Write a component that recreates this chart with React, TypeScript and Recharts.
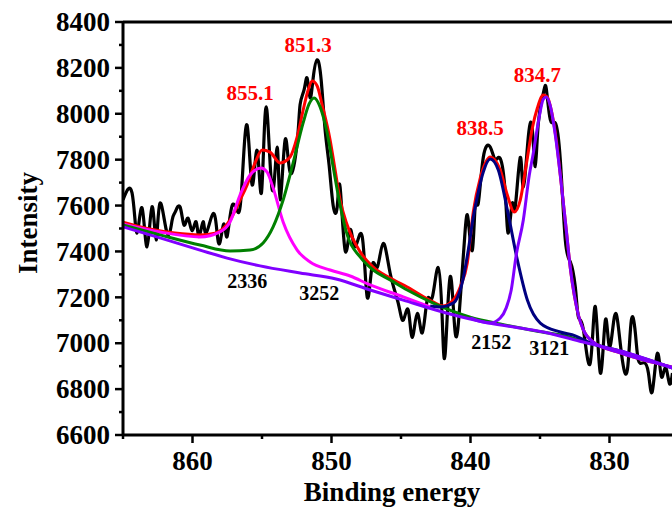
import React from 'react';
import {
  LineChart,
  Line,
  XAxis,
  YAxis,
  ReferenceLine,
  ReferenceDot,
  Label,
} from 'recharts';

type Pt = [number, number];

// measured spectrum (binding energy, intensity)
const measured: Pt[] = [
  [865.0, 7625], [864.35, 7655], [864.0, 7480], [863.63, 7590], [863.27, 7420],
  [862.91, 7595], [862.62, 7450], [862.34, 7610], [861.83, 7480], [861.47, 7535],
  [861.26, 7570], [860.9, 7595], [860.61, 7515], [860.32, 7545], [860.03, 7490],
  [859.74, 7530], [859.53, 7465], [859.24, 7530], [859.02, 7480], [858.52, 7565],
  [858.23, 7480], [858.02, 7440], [857.73, 7520], [857.51, 7465], [857.15, 7600],
  [856.72, 7570], [856.43, 7705], [856.07, 7950], [855.71, 7690], [855.35, 7840],
  [855.03, 7660], [854.7, 8030], [854.27, 7670], [853.91, 7855], [853.7, 7625],
  [853.34, 7885], [852.98, 7745], [852.47, 7875], [852.26, 8040], [851.97, 8105],
  [851.75, 8155], [851.54, 8070], [851.32, 8155], [851.03, 8235], [850.74, 8145],
  [850.46, 7930], [850.17, 7775], [849.88, 7600], [849.59, 7595], [849.38, 7680],
  [849.02, 7405], [848.66, 7495], [848.3, 7420], [847.79, 7465], [847.43, 7200],
  [847.07, 7340], [846.71, 7330], [846.28, 7435], [845.78, 7305], [845.2, 7175],
  [844.84, 7100], [844.48, 7145], [844.19, 7025], [843.83, 7130], [843.47, 7045],
  [843.11, 7190], [842.75, 7200], [842.32, 7330], [842.03, 7100], [841.82, 6955],
  [841.46, 7290], [841.1, 7045], [840.74, 7190], [840.38, 7495], [840.16, 7535],
  [839.87, 7405], [839.66, 7600], [839.44, 7610], [839.08, 7810], [838.58, 7855],
  [838.22, 7800], [837.86, 7805], [837.5, 7655], [837.28, 7480], [837.0, 7610],
  [836.78, 7595], [836.42, 7810], [836.2, 7680], [835.84, 7900], [835.55, 7930],
  [835.34, 7770], [835.12, 7960], [834.76, 8090], [834.55, 8110], [834.26, 7975],
  [833.9, 7960], [833.54, 7800], [833.18, 7450], [832.82, 7355], [832.46, 7245],
  [832.24, 7115], [831.88, 7060], [831.38, 6915], [831.02, 7160], [830.66, 6870],
  [830.3, 7100], [830.01, 6985], [829.65, 7115], [829.36, 7070], [829.07, 6925],
  [828.71, 6885], [828.43, 7100], [828.14, 7045], [827.92, 6925], [827.56, 6915],
  [827.2, 6870], [826.92, 6790], [826.56, 6955], [826.27, 6855], [825.98, 6895],
  [825.69, 6825], [825.47, 6870],
];

// cumulative fit envelope
const envelope: Pt[] = [
  [865.0, 7528], [863.06, 7498], [861.26, 7480], [859.46, 7472], [858.38, 7480],
  [857.3, 7537], [856.58, 7624], [856.07, 7690], [855.5, 7786], [854.99, 7842],
  [854.42, 7833], [853.7, 7786], [852.98, 7812], [852.47, 7899], [852.04, 8016],
  [851.68, 8104], [851.39, 8143], [851.03, 8121], [850.67, 8038], [850.1, 7886],
  [849.74, 7755], [849.38, 7624], [848.87, 7515], [847.94, 7398], [847.0, 7332],
  [845.78, 7284], [844.55, 7245], [842.68, 7180], [841.96, 7162], [841.24, 7188],
  [840.74, 7245], [840.23, 7350], [839.8, 7572], [839.3, 7720], [838.58, 7812],
  [837.86, 7755], [837.35, 7646], [836.85, 7572], [836.42, 7624], [835.99, 7777],
  [835.55, 7938], [835.19, 8025], [834.76, 8082], [834.47, 8073], [834.19, 8016],
  [833.83, 7886], [833.54, 7733], [833.11, 7494], [832.82, 7328], [832.24, 7123],
  [831.88, 7058], [831.16, 7005], [829.44, 6962], [825.47, 6896],
];

// 855.1 component
const peak8551: Pt[] = [
  [865.0, 7520], [862.34, 7485], [859.46, 7463], [858.02, 7485], [857.3, 7528],
  [856.58, 7646], [855.86, 7733], [855.06, 7764], [854.63, 7746], [854.2, 7677],
  [853.48, 7528], [852.47, 7406], [851.54, 7354], [850.1, 7319], [848.66, 7293],
  [847.22, 7254], [844.84, 7202], [842.9, 7158],
];

// 851.3 component
const peak8513: Pt[] = [
  [865.0, 7515], [862.34, 7472], [859.46, 7428], [857.3, 7402], [855.86, 7406],
  [854.92, 7437], [854.2, 7507], [853.48, 7624], [852.76, 7786], [852.04, 7960],
  [851.61, 8043], [851.25, 8069], [850.82, 8030], [850.31, 7916], [849.88, 7768],
  [849.38, 7602], [848.87, 7472], [847.94, 7376], [847.0, 7319], [845.78, 7276],
  [844.55, 7232], [842.68, 7175], [840.02, 7114], [837.86, 7084], [835.27, 7053],
  [832.89, 7027], [831.38, 6997],
];

// 838.5 component
const peak8385: Pt[] = [
  [842.9, 7162], [842.18, 7158], [841.24, 7175], [840.52, 7284], [840.16, 7406],
  [839.8, 7550], [839.44, 7659], [839.08, 7746], [838.58, 7803], [838.0, 7755],
  [837.35, 7581], [836.63, 7363], [835.91, 7188], [834.98, 7088], [833.54, 7049],
  [832.46, 7032], [831.38, 7001], [829.22, 6966], [825.47, 6892],
];

// 834.7 component
const peak8347: Pt[] = [
  [840.02, 7110], [838.58, 7088], [837.86, 7110], [837.43, 7154], [837.07, 7232],
  [836.71, 7385], [836.2, 7537], [835.77, 7733], [835.48, 7829], [835.12, 7964],
  [834.76, 8064], [834.55, 8073], [834.26, 8034], [833.9, 7908], [833.54, 7733],
  [833.11, 7494], [832.82, 7328], [832.53, 7210], [832.24, 7123], [831.88, 7058],
  [831.16, 7005], [829.44, 6962], [825.47, 6896],
];

// Shirley background
const background: Pt[] = [
  [865.0, 7507], [862.34, 7459], [859.46, 7406], [857.51, 7371], [855.14, 7337],
  [852.26, 7306], [849.67, 7280], [847.22, 7232], [844.84, 7188], [841.75, 7132],
  [838.65, 7088], [836.42, 7066], [834.76, 7049], [831.88, 7005], [829.22, 6966],
  [825.47, 6892],
];

const xTicks = [865, 860, 855, 850, 845, 840, 835, 830, 825];
const yTicks = [
  6600, 6700, 6800, 6900, 7000, 7100, 7200, 7300, 7400, 7500,
  7600, 7700, 7800, 7900, 8000, 8100, 8200, 8300, 8400,
];

const peakLabels = [
  { e: 855.86, i: 8091, text: '855.1' },
  { e: 851.68, i: 8300, text: '851.3' },
  { e: 839.3, i: 7942, text: '838.5' },
  { e: 835.19, i: 8173, text: '834.7' },
];
const areaLabels = [
  { e: 856.07, i: 7271, text: '2336' },
  { e: 850.89, i: 7219, text: '3252' },
  { e: 838.5, i: 7005, text: '2152' },
  { e: 834.33, i: 6979, text: '3121' },
];

const toRows = (pts: Pt[]) => pts.map(([e, v]) => ({ e, v }));

const FONT = "'Times New Roman', 'Liberation Serif', serif";

const YTick = (props: any) => {
  const { x, y, payload } = props;
  const major = payload.value % 200 === 0;
  return (
    <g>
      <line x1={x} x2={x - (major ? 8 : 4)} y1={y} y2={y} stroke="#000" strokeWidth={2.5} />
      {major && (
        <text
          x={x - 13}
          y={y}
          dy="0.34em"
          textAnchor="end"
          fontFamily={FONT}
          fontWeight="bold"
          fontSize={27}
          fill="#000"
        >
          {payload.value}
        </text>
      )}
    </g>
  );
};

const XTick = (props: any) => {
  const { x, y, payload } = props;
  const major = payload.value % 10 === 0;
  return (
    <g>
      <line x1={x} x2={x} y1={y} y2={y + (major ? 8 : 4)} stroke="#000" strokeWidth={2.5} />
      {major && (
        <text
          x={x}
          y={y + 35}
          textAnchor="middle"
          fontFamily={FONT}
          fontWeight="bold"
          fontSize={27}
          fill="#000"
        >
          {payload.value}
        </text>
      )}
    </g>
  );
};

const lines: { data: Pt[]; color: string; curve: 'natural' | 'monotone'; w: number }[] = [
  { data: measured, color: '#000000', curve: 'natural', w: 3.2 },
  { data: envelope, color: '#ff0000', curve: 'monotone', w: 3 },
  { data: peak8551, color: '#ff00ff', curve: 'monotone', w: 3 },
  { data: peak8513, color: '#008000', curve: 'monotone', w: 3 },
  { data: peak8385, color: '#000080', curve: 'monotone', w: 3 },
  { data: background, color: '#8000ff', curve: 'monotone', w: 3 },
  { data: peak8347, color: '#8000ff', curve: 'monotone', w: 3 },
];

export default function App() {
  return (
    <div
      style={{
        position: 'absolute',
        left: 0,
        top: 0,
        width: 672,
        height: 520,
        overflow: 'hidden',
        background: '#fff',
      }}
    >
      <LineChart width={700} height={520} margin={{ top: 22, right: 21, left: 0, bottom: 0 }}>
        <XAxis
          type="number"
          dataKey="e"
          domain={[825, 865]}
          reversed
          allowDataOverflow
          ticks={xTicks}
          interval={0}
          tick={<XTick />}
          tickLine={false}
          tickSize={0}
          tickMargin={0}
          height={85}
          axisLine={{ stroke: '#000', strokeWidth: 3 }}
        >
          <Label
            content={(p: any) => {
              const vb = p.viewBox || { x: 123, y: 435 };
              return (
                <text
                  x={vb.x + 269}
                  y={vb.y + 66}
                  textAnchor="middle"
                  fontFamily={FONT}
                  fontWeight="bold"
                  fontSize={27}
                  fill="#000"
                >
                  Binding energy
                </text>
              );
            }}
          />
        </XAxis>
        <YAxis
          type="number"
          domain={[6600, 8400]}
          allowDataOverflow
          ticks={yTicks}
          interval={0}
          tick={<YTick />}
          tickLine={false}
          tickSize={0}
          tickMargin={0}
          width={123}
          axisLine={{ stroke: '#000', strokeWidth: 3 }}
        >
          <Label
            content={(p: any) => {
              const vb = p.viewBox || { x: 0, y: 22 };
              return (
                <text
                  transform={`translate(${vb.x + 37}, ${vb.y + 201}) rotate(-90)`}
                  textAnchor="middle"
                  fontFamily={FONT}
                  fontWeight="bold"
                  fontSize={27}
                  fill="#000"
                >
                  Intensity
                </text>
              );
            }}
          />
        </YAxis>
        <ReferenceLine y={8400} stroke="#000" strokeWidth={3} />
        <ReferenceLine x={825} stroke="#000" strokeWidth={3} />
        {lines.map((l, i) => (
          <Line
            key={i}
            data={toRows(l.data)}
            dataKey="v"
            type={l.curve}
            stroke={l.color}
            strokeWidth={l.w}
            strokeLinejoin="round"
            dot={false}
            activeDot={false}
            isAnimationActive={false}
          />
        ))}
        {peakLabels.map((d) => (
          <ReferenceDot
            key={d.text}
            x={d.e}
            y={d.i}
            r={0}
            fill="none"
            stroke="none"
            label={{
              value: d.text,
              position: 'center',
              fill: '#ff0000',
              fontSize: 21,
              fontWeight: 'bold',
              fontFamily: FONT,
            }}
          />
        ))}
        {areaLabels.map((d) => (
          <ReferenceDot
            key={d.text}
            x={d.e}
            y={d.i}
            r={0}
            fill="none"
            stroke="none"
            label={{
              value: d.text,
              position: 'center',
              fill: '#000',
              fontSize: 20,
              fontWeight: 'bold',
              fontFamily: FONT,
            }}
          />
        ))}
      </LineChart>
    </div>
  );
}
